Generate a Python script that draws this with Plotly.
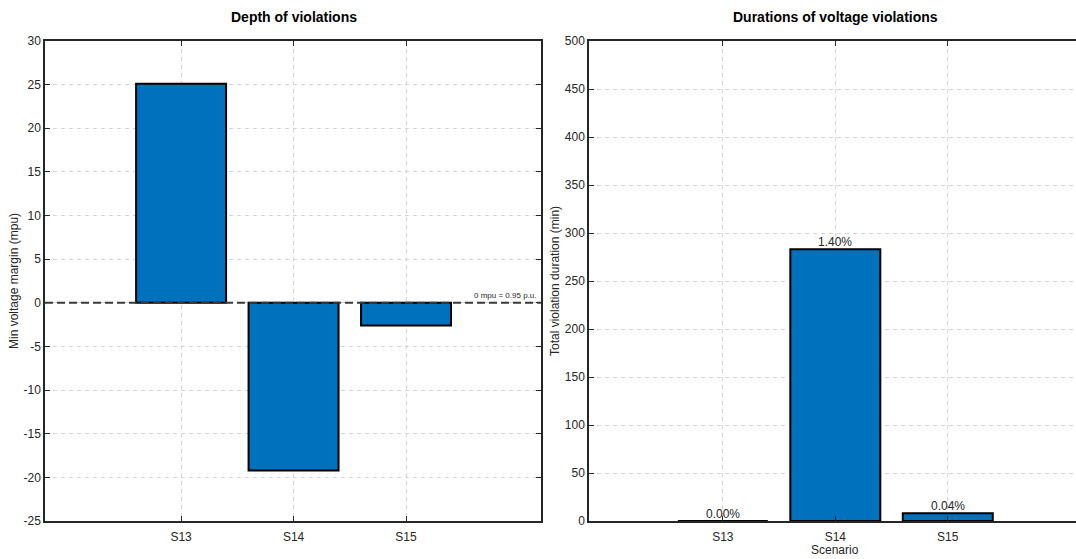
import plotly.graph_objects as go

# Scenario labels and results
scenarios = ["S13", "S14", "S15"]
min_margin_mpu = [25.1, -19.2, -2.6]          # min voltage margin (mpu), 0 mpu = 0.95 p.u.
violation_minutes = [0, 283, 8]               # total violation duration (min)
total_minutes = 14 * 24 * 60                  # simulated horizon (two weeks)
duration_share = [f"{100 * v / total_minutes:.2f}%" for v in violation_minutes]

left_ticks = list(range(-25, 31, 5))
right_ticks = list(range(0, 501, 50))

BAR = "#0072BD"
AX = "#262626"
GRID = "#d4d4d4"
FONT = "Liberation Sans, Arial, Helvetica, sans-serif"

W, H = 1076, 559
ML, MR, MT, MB = 45, 0, 41, 38
plot_w = W - ML - MR

def px_to_dom(p):
    return (p - ML) / plot_w

fig = go.Figure()

fig.add_trace(go.Bar(
    x=scenarios, y=min_margin_mpu, width=0.8,
    marker=dict(color=BAR, line=dict(color="black", width=2)),
    xaxis="x", yaxis="y", showlegend=False,
))

fig.add_trace(go.Bar(
    x=scenarios, y=violation_minutes, width=0.8,
    marker=dict(color=BAR, line=dict(color="black", width=2)),
    xaxis="x2", yaxis="y2", showlegend=False,
))

# Share-of-horizon labels sitting on top of each duration bar
for s, v, lab in zip(scenarios, violation_minutes, duration_share):
    fig.add_annotation(xref="x2", yref="y2", x=s, y=v, text=lab, showarrow=False,
                       xanchor="center", yanchor="bottom", yshift=-2,
                       font=dict(size=12, color=AX, family=FONT))

axis_common = dict(
    showline=True, linecolor=AX, linewidth=1.5,
    ticks="inside", ticklen=5, tickwidth=1, tickcolor=AX,
    showgrid=True, gridcolor=GRID, gridwidth=1, griddash="4px,4px",
    zeroline=False, tickfont=dict(size=12, color=AX, family=FONT),
)

fig.update_layout(
    width=W, height=H,
    margin=dict(l=ML, r=MR, t=MT, b=MB),
    paper_bgcolor="white", plot_bgcolor="white",
    font=dict(family=FONT, color=AX),
    bargap=0.2,
    xaxis=dict(domain=[0, px_to_dom(541)], range=[-1.21, 3.2], type="category",
               mirror="ticks", anchor="y", ticklabelstandoff=4, **axis_common),
    yaxis=dict(domain=[0, 1], range=[-25, 30], tickvals=left_ticks,
               ticktext=[str(t) for t in left_ticks],
               mirror="ticks", anchor="x", **axis_common),
    xaxis2=dict(domain=[px_to_dom(589), 1], range=[-1.19, 3.14], type="category",
                mirror="ticks", anchor="y2", ticklabelstandoff=4, **axis_common),
    yaxis2=dict(domain=[0, 1], range=[0, 500], tickvals=right_ticks,
                ticktext=[str(t) for t in right_ticks],
                mirror=False, anchor="x2", **axis_common),
)

# Reference line at the 0.95 p.u. limit
fig.add_shape(type="line", xref="x domain", yref="y", x0=0, x1=1, y0=0, y1=0,
              line=dict(color="#3a3a3a", width=2, dash="8px,4px"), layer="above")
fig.add_annotation(xref="x domain", yref="y", x=0.995, y=0, text="0 mpu = 0.95 p.u.",
                   showarrow=False, xanchor="right", yanchor="bottom", yshift=1,
                   font=dict(size=8, color=AX, family=FONT))

# Panel titles
fig.add_annotation(xref="x", yref="paper", x="S14", y=1, yshift=24,
                   text="<b>Depth of violations</b>", showarrow=False,
                   xanchor="center", yanchor="middle",
                   font=dict(size=14, color="black", family=FONT))
fig.add_annotation(xref="x2", yref="paper", x="S14", y=1, yshift=24,
                   text="<b>Durations of voltage violations</b>", showarrow=False,
                   xanchor="center", yanchor="middle",
                   font=dict(size=14, color="black", family=FONT))

# Axis titles
fig.add_annotation(xref="paper", yref="paper", x=0, y=0.5, xshift=-31,
                   text="Min voltage margin (mpu)", textangle=-90, showarrow=False,
                   xanchor="center", yanchor="middle",
                   font=dict(size=12, color=AX, family=FONT))
fig.add_annotation(xref="paper", yref="paper", x=px_to_dom(589), y=0.5, xshift=-34,
                   text="Total violation duration (min)", textangle=-90, showarrow=False,
                   xanchor="center", yanchor="middle",
                   font=dict(size=12, color=AX, family=FONT))
fig.add_annotation(xref="x2", yref="paper", x="S14", y=0, yshift=-29,
                   text="Scenario", showarrow=False,
                   xanchor="center", yanchor="middle",
                   font=dict(size=12, color=AX, family=FONT))

fig.write_html("out.html")
